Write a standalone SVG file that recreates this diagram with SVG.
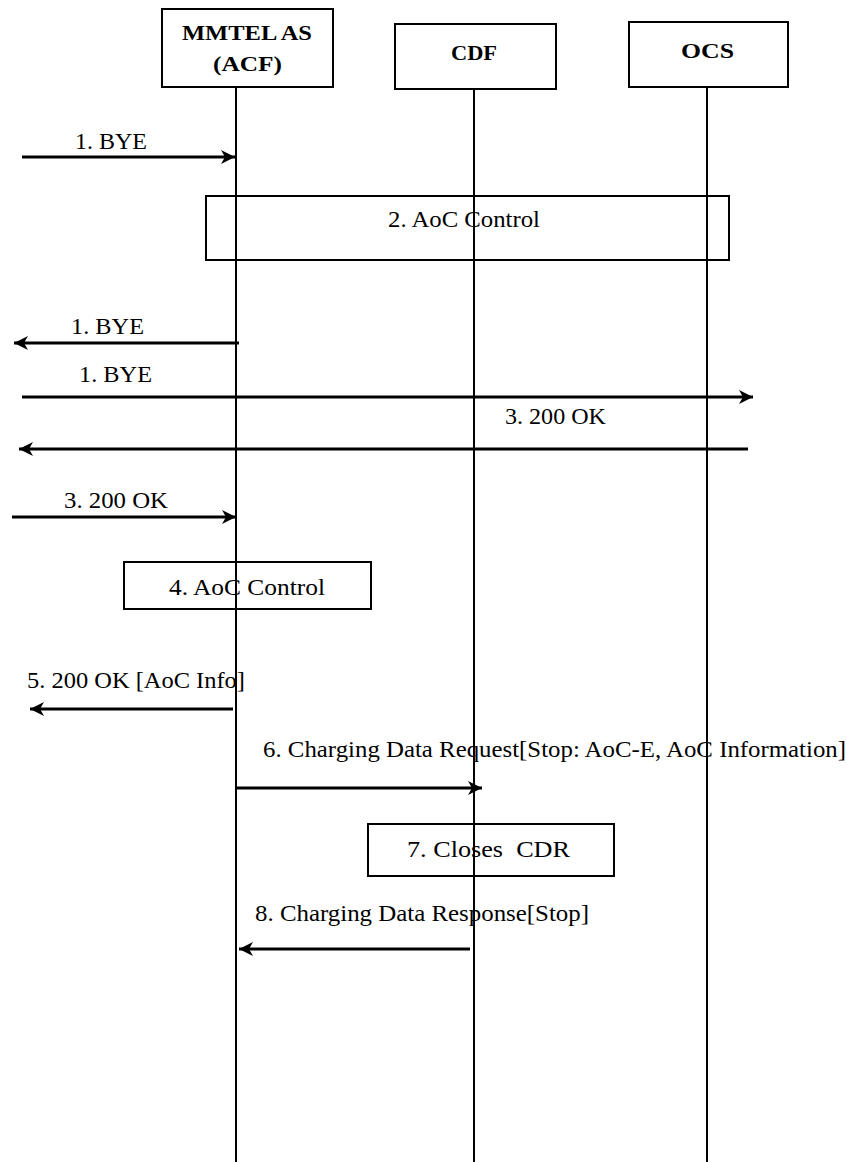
<svg xmlns="http://www.w3.org/2000/svg" width="847" height="1162" viewBox="0 0 847 1162">
<style>
.box{fill:#fff;stroke:#000;stroke-width:2}
.proc{fill:none;stroke:#000;stroke-width:2}
.life{stroke:#000;stroke-width:2;fill:none}
.msg{stroke:#000;stroke-width:3;fill:none;marker-end:url(#ah)}
.t{font-family:'Times New Roman','Liberation Serif',serif;font-size:24px;fill:#000}
.h{font-family:'Times New Roman','Liberation Serif',serif;font-size:22px;font-weight:bold;fill:#000}
</style>
<defs>
<marker id="ah" viewBox="0 0 16 16" refX="15" refY="8" markerWidth="16" markerHeight="16" markerUnits="userSpaceOnUse" orient="auto">
<path d="M15,8 L1,1 L5,8 L1,15 Z" fill="#000"/>
</marker>
</defs>
<g id="lifelines">
<line class="life" x1="236" y1="87" x2="236" y2="1162"/>
<line class="life" x1="474" y1="89" x2="474" y2="1162"/>
<line class="life" x1="707" y1="87" x2="707" y2="1162"/>
</g>
<g id="node-mmtel">
<rect class="box" x="162" y="9" width="171" height="78"/>
<text class="h" x="182" y="40" textLength="130" lengthAdjust="spacingAndGlyphs">MMTEL AS</text>
<text class="h" x="213" y="71" textLength="69" lengthAdjust="spacingAndGlyphs">(ACF)</text>
</g>
<g id="node-cdf">
<rect class="box" x="395" y="24" width="161" height="65"/>
<text class="h" x="451" y="60" textLength="46" lengthAdjust="spacingAndGlyphs">CDF</text>
</g>
<g id="node-ocs">
<rect class="box" x="629" y="22" width="159" height="65"/>
<text class="h" x="681" y="58" textLength="53" lengthAdjust="spacingAndGlyphs">OCS</text>
</g>
<g id="step2">
<rect class="proc" x="206" y="196" width="523" height="64"/>
<text class="t" x="388" y="227" textLength="152" lengthAdjust="spacingAndGlyphs">2. AoC Control</text>
</g>
<g id="step4">
<rect class="proc" x="124" y="562" width="247" height="47"/>
<text class="t" x="169" y="595" textLength="156" lengthAdjust="spacingAndGlyphs">4. AoC Control</text>
</g>
<g id="step7">
<rect class="proc" x="368" y="824" width="246" height="52"/>
<text class="t" x="407" y="857" textLength="163" lengthAdjust="spacingAndGlyphs" xml:space="preserve">7. Closes  CDR</text>
</g>
<g id="connectors">
<line class="msg" x1="22" y1="157" x2="235" y2="157"/>
<line class="msg" x1="239" y1="343" x2="14" y2="343"/>
<line class="msg" x1="22" y1="397" x2="753" y2="397"/>
<line class="msg" x1="748" y1="449" x2="19" y2="449"/>
<line class="msg" x1="12" y1="517" x2="236" y2="517"/>
<line class="msg" x1="233" y1="709" x2="30" y2="709"/>
<line class="msg" x1="236" y1="788" x2="482" y2="788"/>
<line class="msg" x1="470" y1="949" x2="239" y2="949"/>
</g>
<g id="labels">
<text class="t" x="75" y="149" textLength="72" lengthAdjust="spacingAndGlyphs">1. BYE</text>
<text class="t" x="71" y="334" textLength="73" lengthAdjust="spacingAndGlyphs">1. BYE</text>
<text class="t" x="79" y="382" textLength="73" lengthAdjust="spacingAndGlyphs">1. BYE</text>
<text class="t" x="505" y="424" textLength="101" lengthAdjust="spacingAndGlyphs">3. 200 OK</text>
<text class="t" x="64" y="508" textLength="104" lengthAdjust="spacingAndGlyphs">3. 200 OK</text>
<text class="t" x="27" y="688" textLength="218" lengthAdjust="spacingAndGlyphs">5. 200 OK [AoC Info]</text>
<text class="t" x="263" y="757" textLength="583" lengthAdjust="spacingAndGlyphs">6. Charging Data Request[Stop: AoC-E, AoC Information]</text>
<text class="t" x="255" y="921" textLength="334" lengthAdjust="spacingAndGlyphs">8. Charging Data Response[Stop]</text>
</g>
</svg>
